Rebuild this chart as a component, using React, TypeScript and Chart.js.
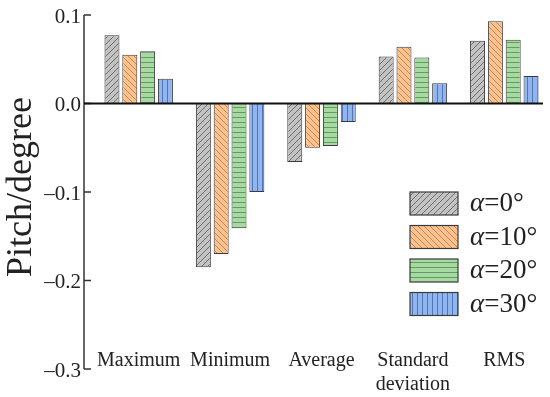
import React, { useEffect, useRef } from 'react';
import { Chart, registerables } from 'chart.js';

Chart.register(...registerables);

const categories: (string | string[])[] = ['Maximum', 'Minimum', 'Average', ['Standard', 'deviation'], 'RMS'];
const seriesLabels = ['α=0°', 'α=10°', 'α=20°', 'α=30°'];
const alpha0 = [0.077, -0.185, -0.066, 0.053, 0.071];
const alpha10 = [0.055, -0.170, -0.050, 0.064, 0.093];
const alpha20 = [0.059, -0.141, -0.048, 0.052, 0.072];
const alpha30 = [0.028, -0.100, -0.021, 0.023, 0.031];
const yTicks = [0.1, 0.0, -0.1, -0.2, -0.3];
const yTickLabels = ['0.1', '0.0', '\u20130.1', '\u20130.2', '\u20130.3'];
const yTitle = 'Pitch/degree';

const fills = ['#c2c2c2', '#f9c28e', '#a9d9a2', '#90b5ef'];
const hatchColors = ['#6f6f6f', '#c98650', '#5f9d5f', '#5175b6'];
const hatchKinds = ['slash', 'backslash', 'horizontal', 'vertical'];

function makePattern(fill: string, line: string, kind: string): CanvasPattern | string {
  const s = kind === 'slash' || kind === 'backslash' ? 6 : 5;
  const c = document.createElement('canvas');
  c.width = s;
  c.height = s;
  const g = c.getContext('2d');
  if (!g) return fill;
  g.fillStyle = fill;
  g.fillRect(0, 0, s, s);
  g.strokeStyle = line;
  g.lineWidth = 1;
  g.beginPath();
  if (kind === 'slash') {
    g.moveTo(0, s); g.lineTo(s, 0);
    g.moveTo(-1, 1); g.lineTo(1, -1);
    g.moveTo(s - 1, s + 1); g.lineTo(s + 1, s - 1);
  } else if (kind === 'backslash') {
    g.moveTo(0, 0); g.lineTo(s, s);
    g.moveTo(-1, s - 1); g.lineTo(1, s + 1);
    g.moveTo(s - 1, -1); g.lineTo(s + 1, 1);
  } else if (kind === 'horizontal') {
    g.moveTo(0, 2.5); g.lineTo(s, 2.5);
  } else {
    g.moveTo(2.5, 0); g.lineTo(2.5, s);
  }
  g.stroke();
  const p = g.createPattern(c, 'repeat');
  return p || fill;
}

const SERIF = '"Liberation Serif", "Times New Roman", serif';

const decorPlugin = {
  id: 'decor',
  afterDraw(chart: any) {
    const { ctx, chartArea, scales } = chart;
    const xs = scales.x;
    const ys = scales.y;
    const axisX = chartArea.left - 9;
    ctx.save();
    // y axis line
    ctx.strokeStyle = '#333';
    ctx.lineWidth = 1.5;
    ctx.beginPath();
    ctx.moveTo(axisX, ys.getPixelForValue(yTicks[0]));
    ctx.lineTo(axisX, ys.getPixelForValue(yTicks[yTicks.length - 1]));
    ctx.stroke();
    // inward ticks + labels
    ctx.fillStyle = '#222';
    ctx.font = '21px ' + SERIF;
    ctx.textAlign = 'right';
    ctx.textBaseline = 'middle';
    yTicks.forEach((v, i) => {
      const py = ys.getPixelForValue(v);
      ctx.beginPath();
      ctx.moveTo(axisX, py);
      ctx.lineTo(axisX + 7, py);
      ctx.stroke();
      ctx.fillText(yTickLabels[i], axisX - 3, py + 2);
    });
    // zero line
    ctx.strokeStyle = '#111';
    ctx.lineWidth = 2;
    ctx.beginPath();
    const z = ys.getPixelForValue(0);
    ctx.moveTo(axisX, z);
    ctx.lineTo(chartArea.right - 7, z);
    ctx.stroke();
    // x labels
    ctx.font = '20px ' + SERIF;
    ctx.textAlign = 'center';
    ctx.fillStyle = '#222';
    categories.forEach((lab, i) => {
      const px = xs.getPixelForValue(i);
      const lines = Array.isArray(lab) ? lab : [lab];
      lines.forEach((t, j) => ctx.fillText(t, px, 361 + j * 24));
    });
    // y title
    ctx.save();
    ctx.translate(22, 187);
    ctx.rotate(-Math.PI / 2);
    ctx.font = '36px ' + SERIF;
    ctx.textAlign = 'center';
    ctx.textBaseline = 'middle';
    ctx.fillStyle = '#222';
    ctx.fillText(yTitle, 0, 0);
    ctx.restore();
    // legend
    chart.data.datasets.forEach((ds: any, i: number) => {
      const bx = 410;
      const by = 192 + i * 33.5;
      ctx.fillStyle = ds.backgroundColor;
      ctx.fillRect(bx, by, 48, 23);
      ctx.strokeStyle = '#3a3a3a';
      ctx.lineWidth = 1.2;
      ctx.strokeRect(bx, by, 48, 23);
      const label: string = ds.label;
      ctx.fillStyle = '#222';
      ctx.textAlign = 'left';
      ctx.textBaseline = 'middle';
      ctx.font = 'italic 27px ' + SERIF;
      const a = label.charAt(0);
      ctx.fillText(a, 470, by + 12);
      const w = ctx.measureText(a).width;
      ctx.font = '27px ' + SERIF;
      ctx.fillText(label.slice(1), 470 + w, by + 12);
    });
    ctx.restore();
  },
};

export default function App() {
  const ref = useRef<HTMLCanvasElement | null>(null);
  useEffect(() => {
    document.body.style.margin = '0';
    const canvas = ref.current;
    if (!canvas) return;
    const series = [alpha0, alpha10, alpha20, alpha30];
    const chart = new Chart(canvas, {
      type: 'bar',
      data: {
        labels: categories as any,
        datasets: series.map((arr, i) => ({
          label: seriesLabels[i],
          data: arr,
          backgroundColor: makePattern(fills[i], hatchColors[i], hatchKinds[i]) as any,
          borderColor: '#3a3a3a',
          borderWidth: 1,
          categoryPercentage: 0.78,
          barPercentage: 0.84,
        })),
      },
      options: {
        animation: false,
        responsive: true,
        maintainAspectRatio: false,
        layout: { padding: { left: 93, right: 0, top: 15, bottom: 28 } },
        scales: {
          x: { display: false, offset: true },
          y: { display: false, min: -0.3, max: 0.1 },
        },
        plugins: {
          legend: { display: false },
          tooltip: { enabled: false },
        },
      },
      plugins: [decorPlugin],
    });
    return () => chart.destroy();
  }, []);
  return (
    <div style={{ width: 550, height: 397, position: 'relative', background: '#fff' }}>
      <canvas ref={ref} />
    </div>
  );
}
